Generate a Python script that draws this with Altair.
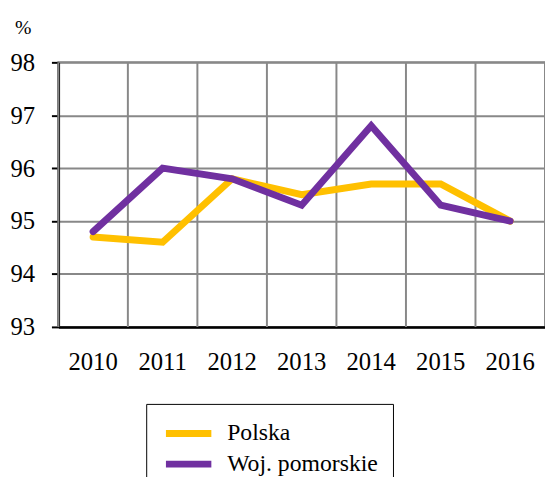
import altair as alt
import pandas as pd

years = ["2010", "2011", "2012", "2013", "2014", "2015", "2016"]
polska = [94.7, 94.6, 95.8, 95.5, 95.7, 95.7, 95.0]
pomorskie = [94.8, 96.0, 95.8, 95.3, 96.8, 95.3, 95.0]
series_names = ["Polska", "Woj. pomorskie"]
colors = ["#FFC000", "#7030A0"]
y_ticks = [93, 94, 95, 96, 97, 98]

rows = []
for name, vals in zip(series_names, [polska, pomorskie]):
    for yr, v in zip(years, vals):
        rows.append({"year": yr, "value": v, "series": name})
df = pd.DataFrame(rows)
years_df = pd.DataFrame({"year": years})

FONT = "Times New Roman"

xscale = alt.Scale(domain=years, paddingInner=0, paddingOuter=0)
x_axis = alt.Axis(title=None, labelAngle=0, ticks=False, grid=False,
                  labelFont=FONT, labelFontSize=25, labelColor="black",
                  labelPadding=23, domainColor="black", domainWidth=2.5)

grid_v = alt.Chart(years_df).mark_rule(color="#888888", strokeWidth=2).encode(
    x=alt.X("year:N", scale=xscale, bandPosition=0, axis=x_axis)
)

lines = alt.Chart(df).mark_line(strokeWidth=7, strokeCap="round", strokeJoin="miter").encode(
    x=alt.X("year:N", scale=xscale, sort=years, axis=x_axis),
    y=alt.Y("value:Q", scale=alt.Scale(domain=[93, 98], zero=False, nice=False),
            axis=alt.Axis(values=y_ticks, title="%", titleAngle=0, titleFont=FONT,
                          titleFontSize=20, titleFontWeight="normal", titleColor="black",
                          titleX=-36, titleY=-29, titleAlign="center", titleBaseline="alphabetic",
                          labelFont=FONT, labelFontSize=25, labelColor="black",
                          labelPadding=17, tickSize=7, tickColor="black", tickWidth=2,
                          domainColor="black", domainWidth=2.5,
                          gridColor="#888888", gridWidth=2)),
    color=alt.Color("series:N", scale=alt.Scale(domain=series_names, range=colors),
                    legend=alt.Legend(title=None, orient="none", legendX=89, legendY=346,
                                      symbolType="M-2,0H2", symbolStrokeWidth=7, symbolSize=529,
                                      symbolFillColor="transparent", symbolOffset=13,
                                      labelFont=FONT, labelFontSize=24, labelColor="black",
                                      labelOffset=24, rowPadding=2, padding=15,
                                      strokeColor="black", fillColor="white",
                                      symbolOpacity=1)),
    order=alt.Order("series:N")
)

chart = alt.layer(grid_v, lines).properties(
    width=493, height=268,
    padding={"left": 51, "top": 52, "right": 0, "bottom": 150},
    autosize=alt.AutoSizeParams(type="none")
).configure(background="white", font=FONT).configure_view(
    stroke="#888888", strokeWidth=2
).configure_axis(labelFont=FONT, titleFont=FONT).configure_legend(labelFont=FONT)

chart.save("out.html", embed_options={"renderer": "svg", "actions": False})
